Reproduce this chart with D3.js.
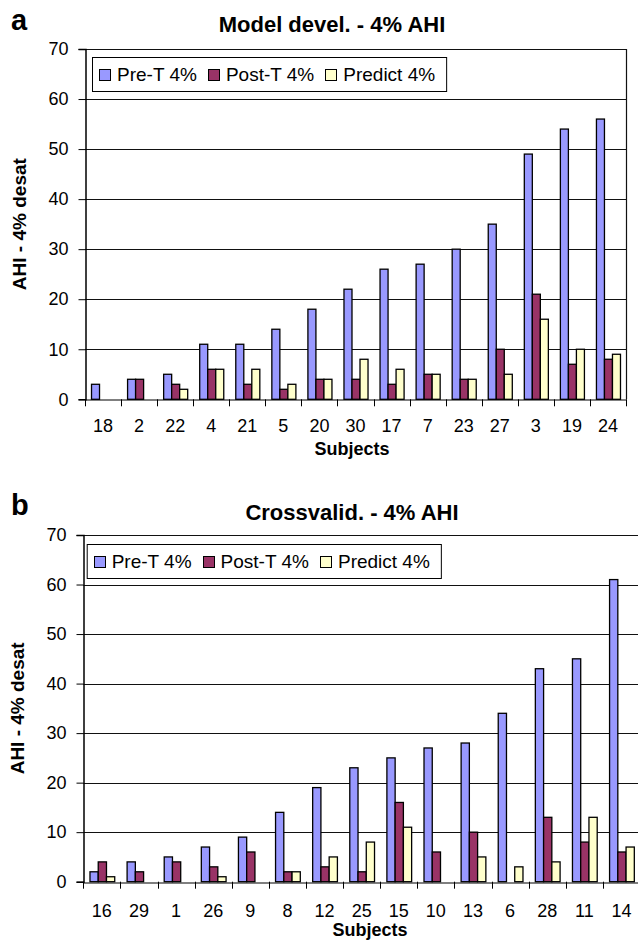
<!DOCTYPE html>
<html>
<head>
<meta charset="utf-8">
<script src="https://cdn.jsdelivr.net/npm/d3@7"></script>
<style>
  body { margin: 0; background: #fff; }
  svg { display: block; font-family: 'Liberation Sans', Arial, sans-serif; }
</style>
</head>
<body>
<div id="chart"></div>
<script>
const seriesNames = ['Pre-T 4%', 'Post-T 4%', 'Predict 4%']
const colors = ['#9999FF', '#993366', '#FFFFCC']
const yTicks = [0, 10, 20, 30, 40, 50, 60, 70]

// panel a - model development
const subjectsA = ['18', '2', '22', '4', '21', '5', '20', '30', '17', '7', '23', '27', '3', '19', '24']
const preA = [3, 4, 5, 11, 11, 14, 18, 22, 26, 27, 30, 35, 49, 54, 56]
const postA = [0, 4, 3, 6, 3, 2, 4, 4, 3, 5, 4, 10, 21, 7, 8]
const predA = [0, 0, 2, 6, 6, 3, 4, 8, 6, 5, 4, 5, 16, 10, 9]

// panel b - cross validation
const subjectsB = ['16', '29', '1', '26', '9', '8', '12', '25', '15', '10', '13', '6', '28', '11', '14']
const preB = [2, 4, 5, 7, 9, 14, 19, 23, 25, 27, 28, 34, 43, 45, 61]
const postB = [4, 2, 4, 3, 6, 2, 3, 2, 16, 6, 10, 0, 13, 8, 6]
const predB = [1, 0, 0, 1, 0, 2, 5, 8, 11, 0, 5, 3, 4, 13, 7]

const W = 638, H = 942

const svg = d3.select('#chart').append('svg')
    .attr('width', W)
    .attr('height', H)

function drawPanel(p) {
    const g = svg.append('g')

    const x0 = d3.scaleBand().domain(p.subjects).range([p.left, p.right]).padding(0)
    const x1 = d3.scaleBand().domain(seriesNames).range([0, x0.bandwidth()])
        .paddingInner(0).paddingOuter(0.75)
    const y = d3.scaleLinear().domain([0, 70]).range([p.bottom, p.top])

    const rows = p.subjects.map((s, i) => ({
        subject: s,
        values: [p.pre[i], p.post[i], p.pred[i]]
    }))

    // gridlines
    g.append('g')
        .selectAll('line')
        .data(yTicks.filter(t => t > 0))
        .enter().append('line')
        .attr('x1', p.left)
        .attr('x2', p.right)
        .attr('y1', d => Math.round(y(d)) + 0.5)
        .attr('y2', d => Math.round(y(d)) + 0.5)
        .attr('stroke', '#111')
        .attr('stroke-width', 1.2)

    // right border
    g.append('line')
        .attr('x1', Math.round(p.right) + 0.5)
        .attr('x2', Math.round(p.right) + 0.5)
        .attr('y1', y(70))
        .attr('y2', y(0))
        .attr('stroke', '#111')
        .attr('stroke-width', 1.2)

    // bars
    const groups = g.selectAll('.grp')
        .data(rows)
        .enter().append('g')
        .attr('class', 'grp')
        .attr('transform', d => `translate(${x0(d.subject)},0)`)

    groups.selectAll('rect')
        .data(d => d.values.map((v, i) => ({ key: seriesNames[i], value: v, i })))
        .enter().append('rect')
        .filter(d => d.value > 0)
        .attr('x', d => x1(d.key) + 0.5)
        .attr('y', d => y(d.value))
        .attr('width', x1.bandwidth())
        .attr('height', d => y(0) - y(d.value))
        .attr('fill', d => colors[d.i])
        .attr('stroke', '#000')
        .attr('stroke-width', 1.3)

    // y axis
    const yAxis = d3.axisLeft(y).tickValues(yTicks).tickSize(7).tickPadding(10)
    g.append('g')
        .attr('transform', `translate(${Math.round(p.left) + 0.5},0)`)
        .call(yAxis)
        .call(a => a.select('.domain').attr('stroke', '#000').attr('stroke-width', 1.5))
        .call(a => a.selectAll('text').attr('font-size', 18).attr('fill', '#000')
            .style('font-family', "'Liberation Sans', Arial, sans-serif"))

    // x axis
    const xAxis = d3.axisBottom(x0).tickSize(0).tickPadding(p.labelPad)
    g.append('g')
        .attr('transform', `translate(0,${Math.round(y(0)) + 0.5})`)
        .call(xAxis)
        .call(a => a.select('.domain').attr('stroke', '#000').attr('stroke-width', 1.2))
        .call(a => a.selectAll('text').attr('font-size', 18).attr('fill', '#000')
            .style('font-family', "'Liberation Sans', Arial, sans-serif"))

    // category boundary ticks
    const bounds = p.subjects.map(s => x0(s)).concat([x0.range()[1]])
    g.append('g')
        .selectAll('line')
        .data(bounds)
        .enter().append('line')
        .attr('x1', d => Math.round(d) + 0.5)
        .attr('x2', d => Math.round(d) + 0.5)
        .attr('y1', y(0))
        .attr('y2', y(0) + 7)
        .attr('stroke', '#000')

    // axis titles
    g.append('text')
        .attr('transform', `translate(${p.yTitleX},${(p.top + p.bottom) / 2}) rotate(-90)`)
        .attr('text-anchor', 'middle')
        .attr('font-size', 19)
        .attr('font-weight', 'bold')
        .text('AHI - 4% desat')

    g.append('text')
        .attr('x', p.subjX)
        .attr('y', p.subjY)
        .attr('text-anchor', 'middle')
        .attr('font-size', 18)
        .attr('font-weight', 'bold')
        .text('Subjects')

    // title and panel letter
    g.append('text')
        .attr('x', p.titleX)
        .attr('y', p.titleY)
        .attr('text-anchor', 'middle')
        .attr('font-size', 22)
        .attr('font-weight', 'bold')
        .text(p.title)

    g.append('text')
        .attr('x', 11)
        .attr('y', p.letterY)
        .attr('font-size', 29)
        .attr('font-weight', 'bold')
        .text(p.letter)

    // legend
    const lg = g.append('g')
    const box = lg.append('rect')
        .attr('x', p.legX + 0.5)
        .attr('y', p.legY + 0.5)
        .attr('height', 34)
        .attr('fill', '#fff')
        .attr('stroke', '#000')
    let cursor = p.legX + 7
    const cy = p.legY + 17.5
    seriesNames.forEach((name, i) => {
        lg.append('rect')
            .attr('x', Math.round(cursor) + 0.5)
            .attr('y', Math.round(cy - 6) + 0.5)
            .attr('width', 11)
            .attr('height', 11)
            .attr('fill', colors[i])
            .attr('stroke', '#000')
        const t = lg.append('text')
            .attr('x', cursor + 18)
            .attr('y', cy)
            .attr('dy', '0.36em')
            .attr('font-size', 19)
            .text(name)
        cursor = cursor + 18 + t.node().getComputedTextLength() + 11
    })
    box.attr('width', cursor - p.legX)
}

drawPanel({
    subjects: subjectsA, pre: preA, post: postA, pred: predA,
    left: 85, right: 626, top: 49, bottom: 399.3,
    labelPad: 20, yTitleX: 26, subjX: 352, subjY: 455,
    title: 'Model devel. - 4% AHI', titleX: 332, titleY: 32,
    letter: 'a', letterY: 30,
    legX: 92, legY: 57
})

drawPanel({
    subjects: subjectsB, pre: preB, post: postB, pred: predB,
    left: 83.3, right: 640, top: 535, bottom: 881.7,
    labelPad: 22, yTitleX: 24, subjX: 370, subjY: 936,
    title: 'Crossvalid. - 4% AHI', titleX: 352, titleY: 520,
    letter: 'b', letterY: 515,
    legX: 86.7, legY: 544
})
</script>
</body>
</html>
